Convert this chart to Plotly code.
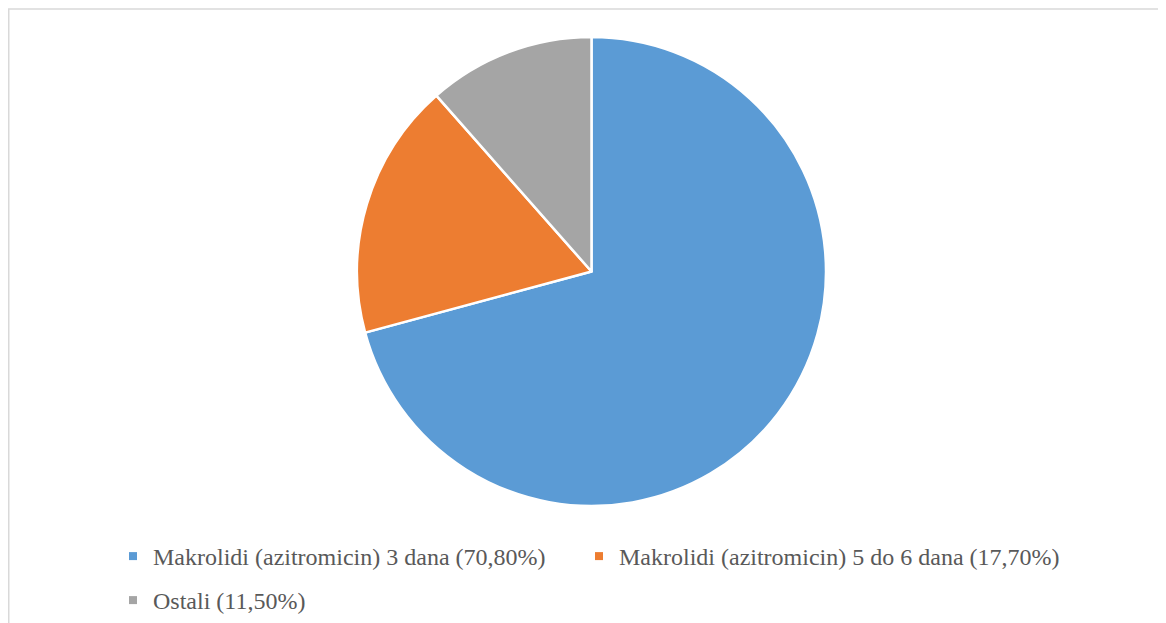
import plotly.graph_objects as go

labels = ["Makrolidi (azitromicin) 3 dana (70,80%)",
          "Makrolidi (azitromicin) 5 do 6 dana (17,70%)",
          "Ostali (11,50%)"]
values = [70.8, 17.7, 11.5]
colors = ["#5B9BD5", "#ED7D31", "#A5A5A5"]
legend_ids = ["legend", "legend2", "legend3"]

W, H = 1166, 623

fig = go.Figure()
fig.add_trace(go.Pie(
    labels=labels, values=values, sort=False, direction="clockwise", rotation=0,
    marker=dict(colors=colors, line=dict(color="white", width=2.5)),
    textinfo="none", hoverinfo="label+percent", showlegend=False,
    domain=dict(x=[348 / W, 819 / W], y=[(H - 498) / H, (H - 29) / H]),
))
for lab, col, lg in zip(labels, colors, legend_ids):
    fig.add_trace(go.Scatter(
        x=[None], y=[None], mode="markers", name=lab,
        marker=dict(symbol="square", size=8, color=col),
        showlegend=True, legend=lg,
    ))

legend_common = dict(
    orientation="h", xanchor="left", yanchor="top",
    itemsizing="trace", itemwidth=30,
    font=dict(family="Liberation Serif, Times New Roman, serif", size=24, color="#595959"),
    itemclick=False, bgcolor="rgba(0,0,0,0)",
)

fig.update_layout(
    width=W, height=H,
    margin=dict(l=0, r=0, t=0, b=0),
    paper_bgcolor="white", plot_bgcolor="white",
    xaxis=dict(visible=False), yaxis=dict(visible=False),
    font=dict(family="Liberation Serif, Times New Roman, serif", color="#595959", size=24),
    legend=dict(x=105 / W, y=(H - 526) / H, **legend_common),
    legend2=dict(x=571 / W, y=(H - 526) / H, **legend_common),
    legend3=dict(x=105 / W, y=(H - 570) / H, **legend_common),
    shapes=[
        dict(type="line", xref="paper", yref="paper", x0=0, x1=1, y0=(H - 1) / H, y1=(H - 1) / H,
             line=dict(color="#D9D9D9", width=1.5)),
        dict(type="line", xref="paper", yref="paper", x0=0.75 / W, x1=0.75 / W, y0=0, y1=(H - 1) / H,
             line=dict(color="#D9D9D9", width=1.5)),
    ],
)

fig.write_html("out.html")
